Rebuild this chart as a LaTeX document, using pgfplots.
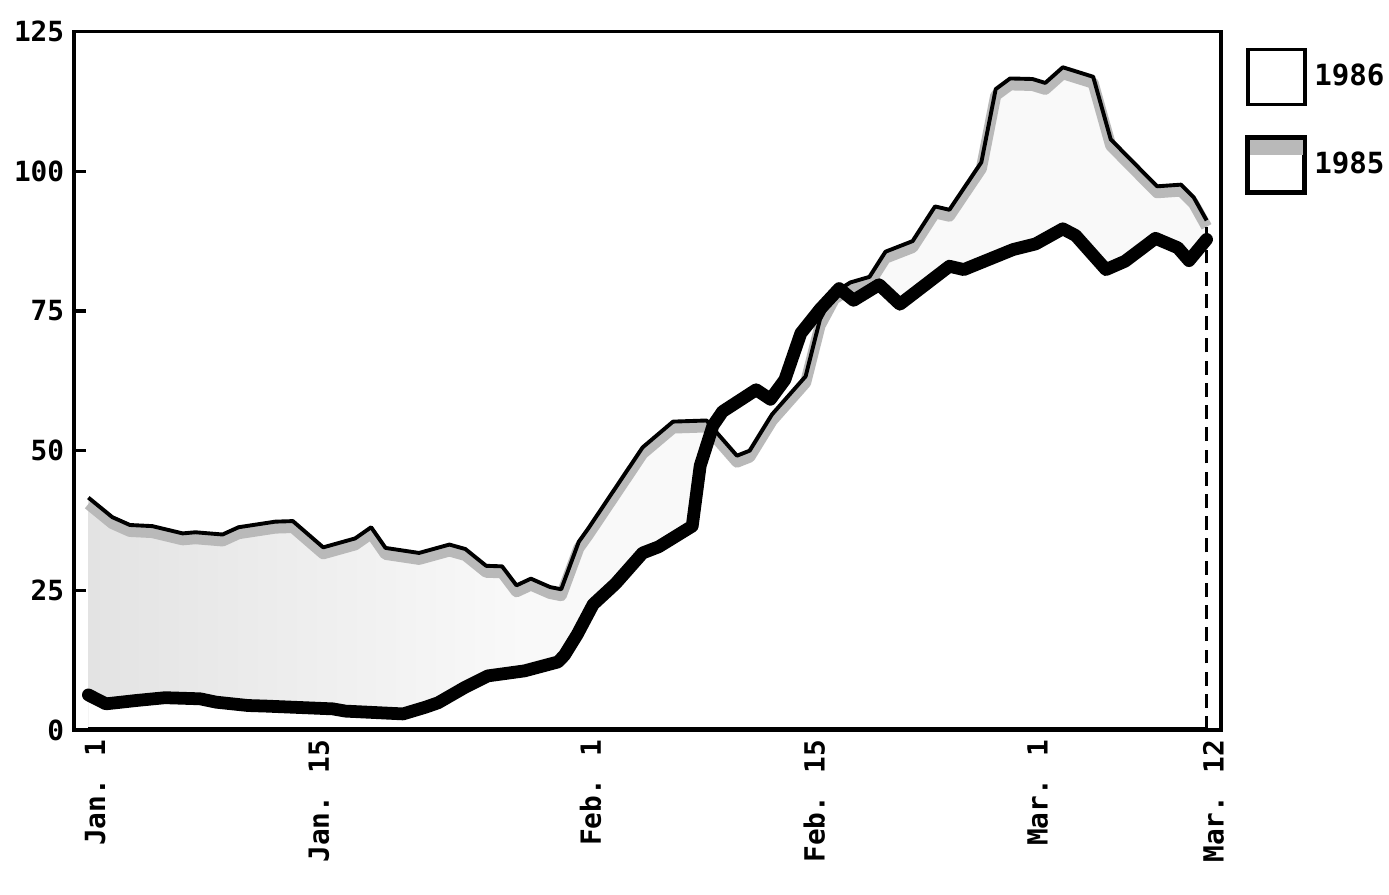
\documentclass[border=0pt]{standalone}
\usepackage{fontspec}
\setmainfont{DejaVu Sans Mono}
\usepackage{pgfplots}
\usepackage{pgfplotstable}
\pgfplotsset{compat=1.18}

% day (0 = Jan. 1) and value
\pgfplotstableread{
d v
0 41.6
1.5 38.1
2.6 36.7
4.0 36.5
5.9 35.2
6.7 35.4
8.4 35.0
9.4 36.3
11.7 37.3
12.8 37.4
14.7 32.7
16.7 34.3
17.7 36.3
18.6 32.6
20.7 31.7
22.6 33.2
23.6 32.4
24.9 29.4
25.9 29.3
26.8 25.9
27.7 27.1
28.9 25.6
29.6 25.2
30.7 33.7
31.3 36.1
34.7 50.6
36.6 55.2
38.7 55.4
39.1 54.0
40.6 49.1
41.4 50.0
42.8 56.5
44.9 63.3
45.8 73.5
46.7 78.3
47.7 80.1
48.9 81.1
49.9 85.6
51.6 87.5
53.0 93.7
53.9 93.1
55.9 101.6
56.8 114.7
57.7 116.6
59.1 116.5
59.9 115.8
61.0 118.6
62.9 116.9
64.0 105.7
66.9 97.3
68.4 97.6
69.2 95.3
70.0 91.2
}\thinsix

\pgfplotstableread{
d v
0 6.3
1.1 4.7
3.0 5.3
4.8 5.8
7.0 5.6
8.0 5.0
10.0 4.4
11.1 4.3
15.3 3.8
16.1 3.4
19.7 2.9
21.1 4.1
21.9 4.9
23.6 7.7
25.0 9.7
27.3 10.6
29.4 12.2
29.8 13.4
30.6 17.1
31.6 22.5
33.0 26.2
34.7 31.7
35.7 32.8
37.8 36.5
38.3 47.3
39.1 54.5
39.7 57.0
41.8 60.9
42.7 59.2
43.6 62.7
44.6 71.0
45.8 75.3
47.0 79.0
47.9 76.9
49.5 79.7
50.8 76.2
53.9 83.0
54.8 82.4
57.9 86.0
59.3 87.0
61.0 89.7
61.8 88.5
63.7 82.4
64.9 83.9
66.8 88.0
68.2 86.3
68.9 84.0
70.0 87.8
}\thickfive

\begin{document}
\begin{tikzpicture}
\path[use as bounding box] (-26.64pt,-59pt) rectangle (473.4pt,262.84pt);
\begin{axis}[
    scale only axis,
    width=412.9pt,
    height=251.5pt,
    xmin=-0.9, xmax=70.9,
    ymin=0, ymax=125,
    axis line style={line width=1.2pt},
    xtick={0,14,31,45,59,70},
    xticklabels={Jan. 1,Jan. 15,Feb. 1,Feb. 15,Mar. 1,Mar. 12},
    x tick label style={rotate=90, anchor=east, yshift=-2.5pt},
    x tick style={draw=none},
    ytick={0,25,50,75,100,125},
    ytick pos=left,
    y tick style={line width=1.2pt, black},
    tick align=inside,
    major tick length=4.3pt,
    tick label style={font=\bfseries\fontsize{10}{12}\selectfont},
    /pgf/number format/assume math mode=true,
    legend style={at={(1,1)}, anchor=north west, xshift=8.6pt, yshift=-5.6pt,
        draw=none, fill=none, inner sep=0pt, row sep=10.5pt,
        font=\bfseries\fontsize{10.5}{12}\selectfont,
        nodes={inner xsep=2.5pt, inner ysep=0pt}},
    legend cell align=left,
]
\addlegendimage{legend image code/.code={\draw[line width=1.2pt, fill=white] (0pt,-9.9pt) rectangle (20.5pt,9.9pt);}}
\addlegendentry{1986}
\addlegendimage{legend image code/.code={\draw[line width=1.8pt, fill=white] (0pt,-9.9pt) rectangle (20.5pt,9.9pt); \fill[gray!55] (1pt,4pt) rectangle (19.5pt,8.9pt);}}
\addlegendentry{1985}

% stippled fill under 1986
\addplot[draw=none, fill=gray!5, forget plot] table[x=d,y=v] {\thinsix} \closedcycle;
\addplot[draw=none, left color=gray!22, right color=gray!5, forget plot,
    restrict x to domain=0:27] table[x=d,y=v] {\thinsix} \closedcycle;
\addplot[draw=none, fill=white, forget plot] table[x=d,y=v] {\thickfive} \closedcycle;
\addplot[gray!55, line width=4pt, yshift=-2.3pt, line join=round, forget plot]
    table[x=d,y=v] {\thinsix};

% 1986
\addplot[black, line width=1.4pt, line join=round, forget plot] table[x=d,y=v] {\thinsix};
\addplot[black, line width=1pt, dash pattern=on 5pt off 3pt, forget plot]
    coordinates {(70,0) (70,91.2)};

% 1985
\addplot[black, line width=4.6pt, line join=round, line cap=round, forget plot]
    table[x=d,y=v] {\thickfive};
\addplot[black, line width=2.2pt, forget plot] coordinates {(0,0) (70,0)};
\end{axis}
\end{tikzpicture}
\end{document}
